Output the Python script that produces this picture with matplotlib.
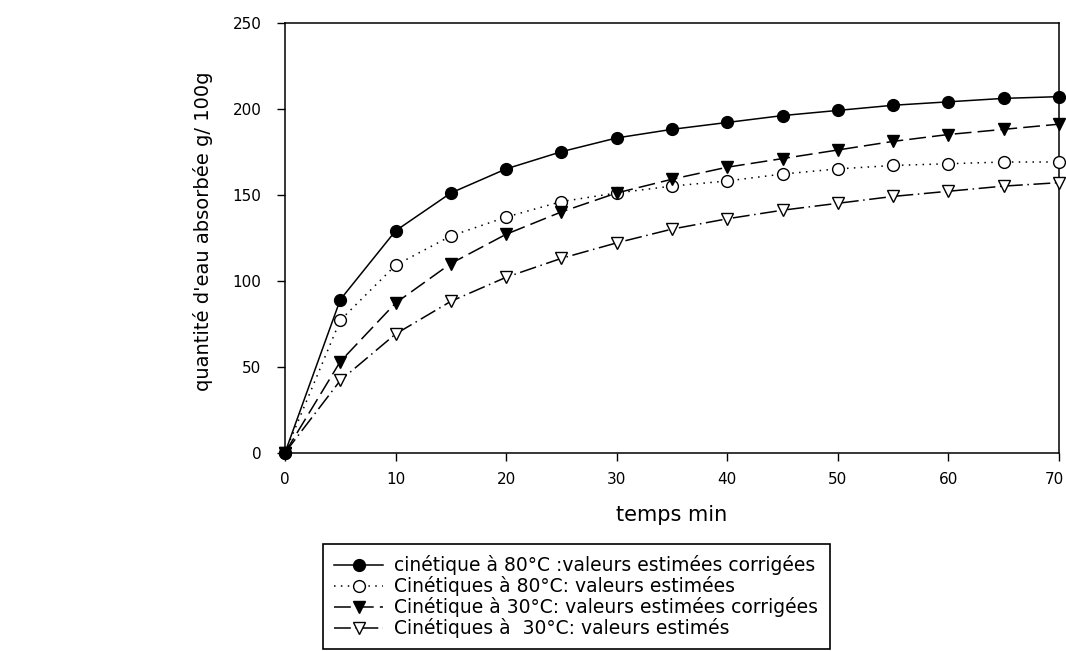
import matplotlib
matplotlib.use("Agg")
import matplotlib.pyplot as plt
import matplotlib.transforms as mtransforms

# ---- data ----
temps = [0, 5, 10, 15, 20, 25, 30, 35, 40, 45, 50, 55, 60, 65, 70]
c80_corr = [0, 89, 129, 151, 165, 175, 183, 188, 192, 196, 199, 202, 204, 206, 207]
c80_est = [0, 77, 109, 126, 137, 146, 151, 155, 158, 162, 165, 167, 168, 169, 169]
c30_corr = [0, 53, 87, 110, 127, 140, 151, 159, 166, 171, 176, 181, 185, 188, 191]
c30_est = [0, 42, 69, 88, 102, 113, 122, 130, 136, 141, 145, 149, 152, 155, 157]

labels = [
    "cinétique à 80°C :valeurs estimées corrigées",
    "Cinétiques à 80°C: valeurs estimées",
    "Cinétique à 30°C: valeurs estimées corrigées",
    "Cinétiques à  30°C: valeurs estimés",
]
xticks = [0, 10, 20, 30, 40, 50, 60, 70]
yticks = [0, 50, 100, 150, 200, 250]

plt.rcParams['font.family'] = ['DejaVu Sans']

fig = plt.figure(figsize=(10.66, 6.51), dpi=100)
W, H = 1066, 651
x0, x1, ytop, ybot = 285, 1059, 22.7, 452.7
ax = fig.add_axes([x0 / W, 1 - ybot / H, (x1 - x0) / W, (ybot - ytop) / H])

ms = 8.5
lw = 1.1
h1, = ax.plot(temps, c80_corr, color='black', lw=lw, ls='-', marker='o',
              ms=ms, mfc='black', mec='black', clip_on=False, zorder=5)
h2, = ax.plot(temps, c80_est, color='black', lw=lw, ls=(0, (1, 3.5)), marker='o',
              ms=ms, mfc='white', mec='black', mew=1.0, clip_on=False, zorder=4)
h3, = ax.plot(temps, c30_corr, color='black', lw=lw, ls=(0, (11, 4)), marker='v',
              ms=ms + 0.5, mfc='black', mec='black', clip_on=False, zorder=4)
h4, = ax.plot(temps, c30_est, color='black', lw=lw, ls=(0, (11, 3, 1, 3)), marker='v',
              ms=ms + 0.5, mfc='white', mec='black', mew=1.0, clip_on=False, zorder=3)

ax.set_xlim(0, 70)
ax.set_ylim(0, 250)
ax.set_xticks(xticks)
ax.set_yticks(yticks)
ax.tick_params(axis='both', direction='out', length=6, width=1.0, colors='black',
               labelsize=11)
ax.tick_params(axis='y', pad=11)
ax.tick_params(axis='x', pad=8)
for s in ax.spines.values():
    s.set_linewidth(1.1)
    s.set_color('black')

# nudge the last x tick label so it stays inside the figure
fig.canvas.draw()
last = ax.get_xticklabels()[-1]
last.set_transform(last.get_transform() +
                   mtransforms.ScaledTranslation(-5 / 100, 0, fig.dpi_scale_trans))

ax.set_xlabel("temps min", fontsize=15, labelpad=13)
ax.set_ylabel("quantité d'eau absorbée g/ 100g", fontsize=14)
ax.yaxis.set_label_coords(-0.093, 0.515)

leg = fig.legend([h1, h2, h3, h4], labels, loc='upper left',
                 bbox_to_anchor=(323 / W, 1 - 544 / H), fontsize=13.5,
                 frameon=True, fancybox=False, shadow=False, framealpha=1,
                 edgecolor='black', handlelength=2.6, handletextpad=0.6,
                 labelspacing=0.05, borderpad=0.6, borderaxespad=0)
leg.get_frame().set_linewidth(1.2)

fig.savefig("out.png", dpi=100)
